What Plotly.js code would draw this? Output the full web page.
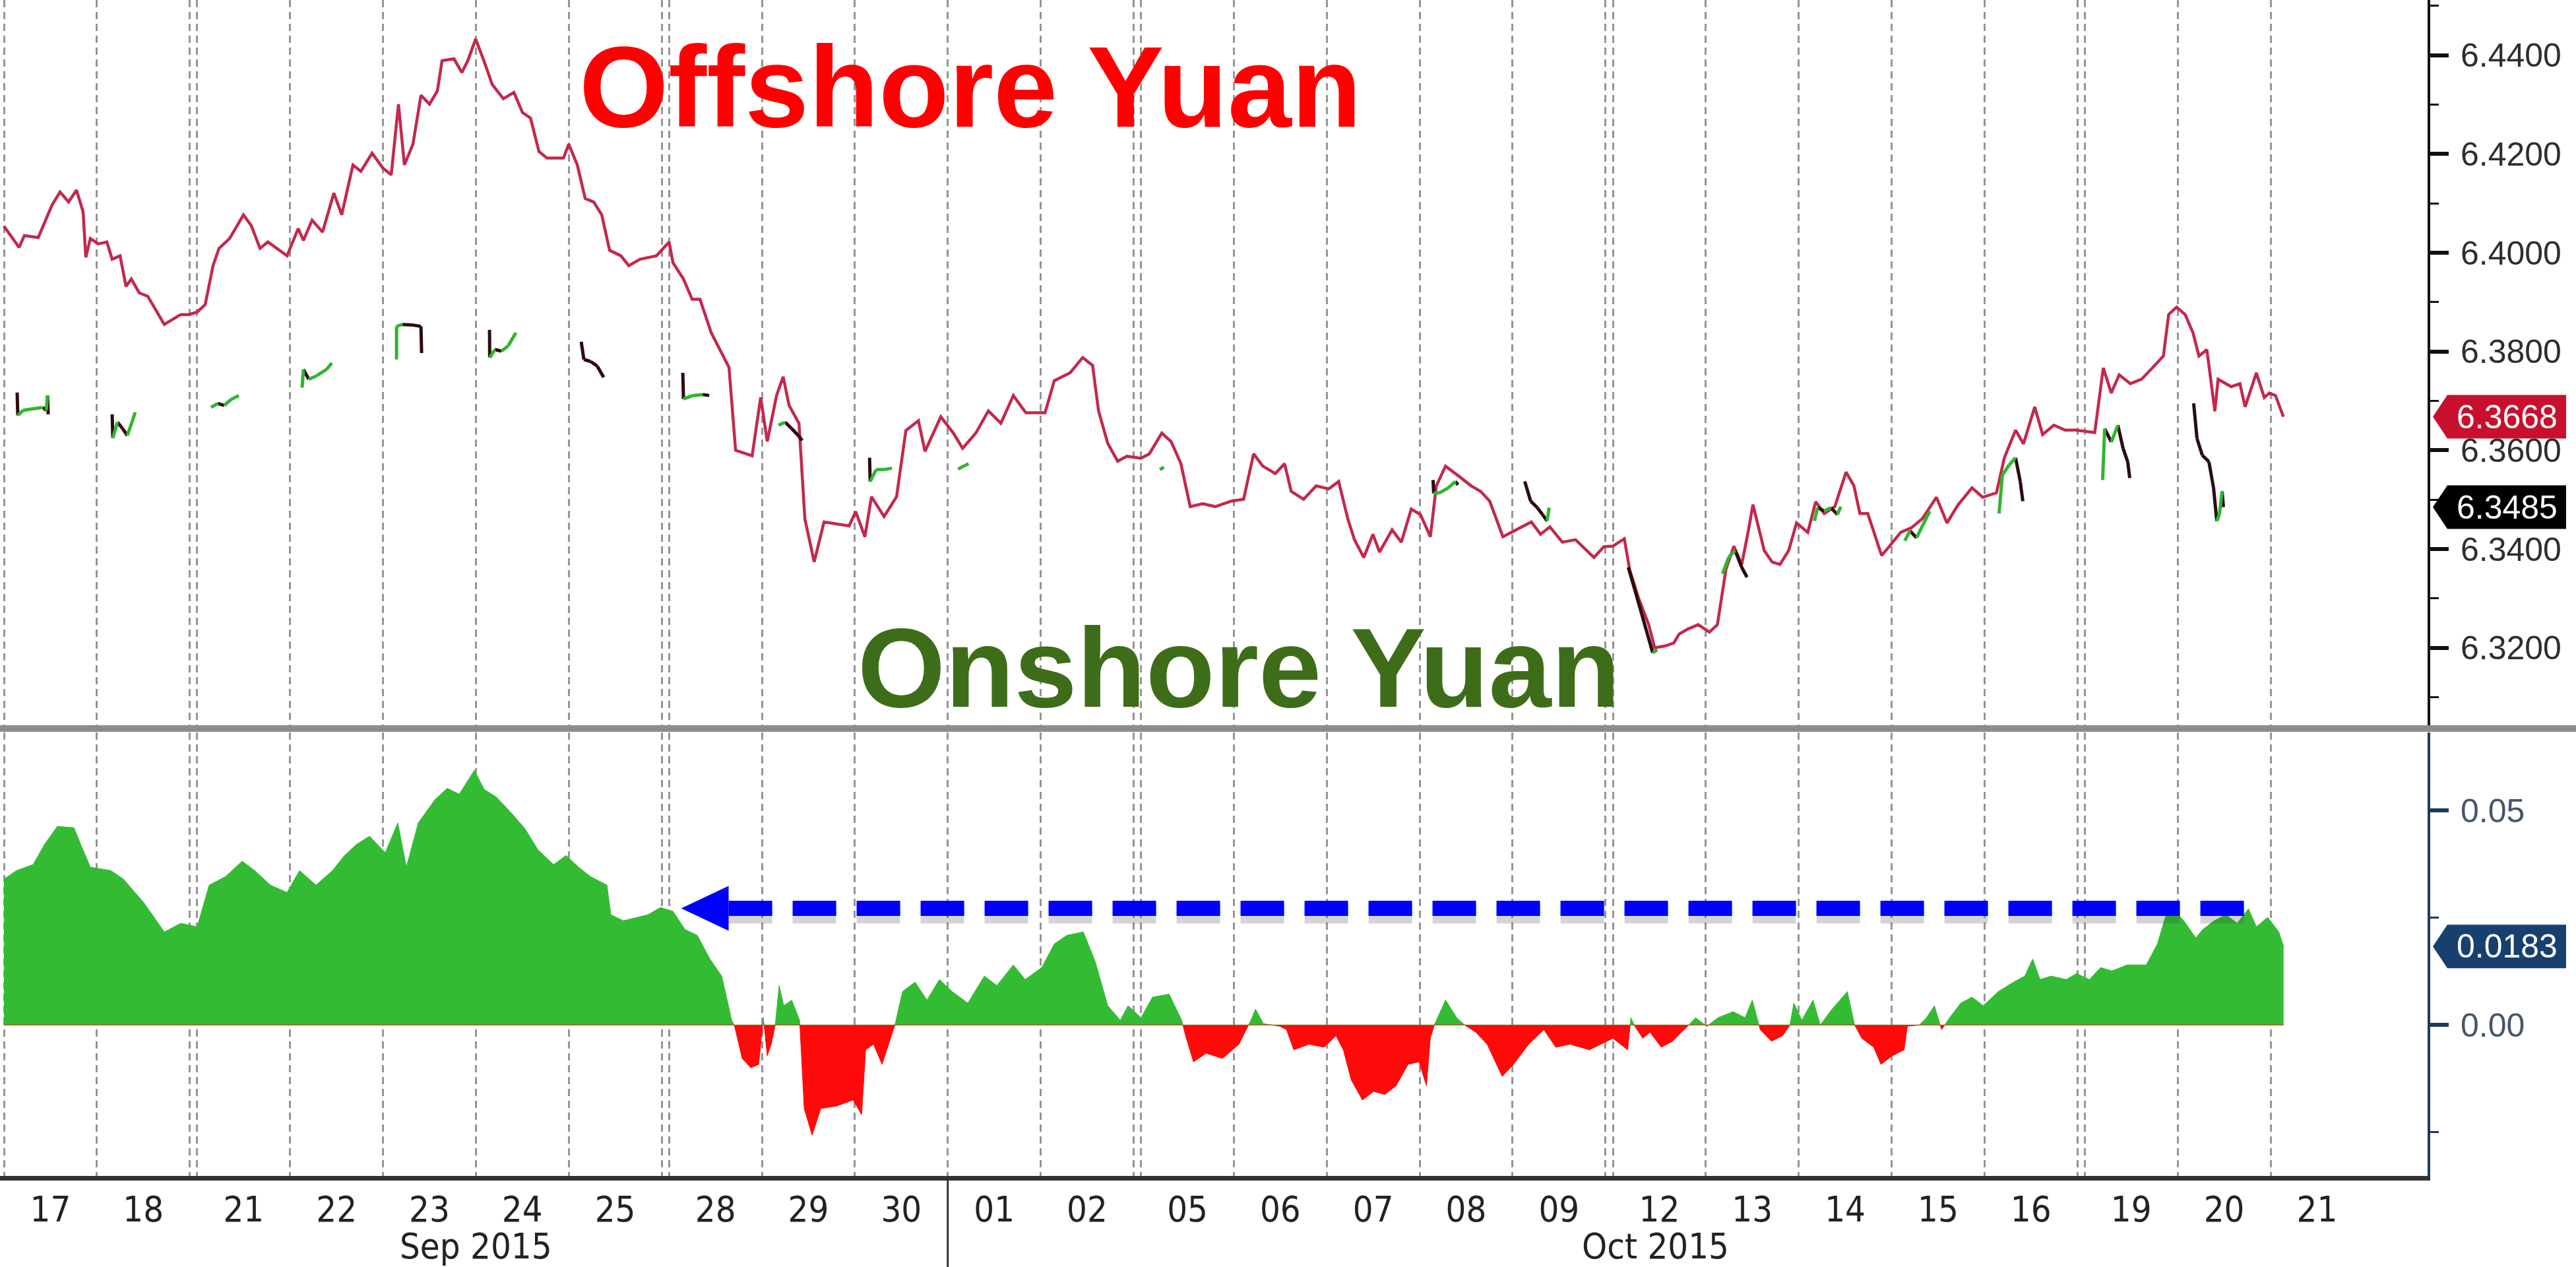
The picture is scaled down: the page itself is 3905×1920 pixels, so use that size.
<!DOCTYPE html>
<html><head><meta charset="utf-8">
<script src="https://cdn.plot.ly/plotly-3.0.1.min.js"></script>
<style>html,body{margin:0;padding:0;background:#fff;}#chart{width:3905px;height:1920px;}</style>
</head><body><div id="chart"></div>
<script>
// ---------- DATA ----------
// trading days on the axis (t = trading-day index + fraction of the day)
const dayLabels = ['17','18','21','22','23','24','25','28','29','30','01','02','05','06','07','08','09','12','13','14','15','16','19','20','21'];
const mondayIdx = [2, 7, 12, 17, 22];          // first trading day after each weekend
const monthLabels = ['Sep 2015', 'Oct 2015'];
const monthFirstDay = [0, 10];
const monthLastDay = [9, 24];

// Offshore yuan (CNH)
const offT = [0.000,0.163,0.220,0.369,0.518,0.604,0.696,0.781,0.852,0.881,0.930,1.016,1.108,1.165,1.250,1.314,1.371,1.456,1.548,1.726,1.903,1.990,
2.000,2.086,2.171,2.235,2.349,2.498,2.583,2.676,2.761,2.967,3.088,3.144,3.237,3.350,3.471,3.556,3.677,3.762,3.883,3.997,4.089,4.167,4.231,4.323,4.409,4.501,4.586,4.636,4.764,4.849,4.913,4.998,
5.090,5.176,5.296,5.410,5.502,5.588,5.680,5.765,5.943,6.000,6.092,6.177,6.269,6.355,6.440,6.561,6.646,6.767,6.944,
7.000,7.042,7.155,7.248,7.333,7.454,7.645,7.716,7.894,7.986,8.057,8.157,8.228,8.292,8.398,8.462,8.562,8.668,8.938,9.009,9.108,9.179,9.314,9.449,9.549,9.684,9.755,9.925,
10.060,10.160,10.302,10.437,10.572,10.706,10.841,11.047,11.147,11.317,11.452,11.559,11.623,11.722,11.829,11.928,
12.000,12.090,12.224,12.324,12.430,12.530,12.665,12.800,12.970,13.105,13.212,13.311,13.446,13.546,13.617,13.751,13.886,14.021,14.128,14.227,14.298,14.398,14.497,14.568,14.703,14.803,14.909,
15.009,15.115,15.179,15.278,15.420,15.555,15.655,15.754,15.896,15.996,16.095,16.202,16.301,16.401,16.536,16.678,16.876,16.983,
17.000,17.123,17.180,17.272,17.386,17.450,17.564,17.656,17.713,17.805,17.919,18.039,18.125,18.217,18.302,18.387,18.451,18.508,18.629,18.714,18.799,18.892,18.977,
19.098,19.183,19.275,19.389,19.510,19.595,19.659,19.744,19.893,19.978,20.099,20.213,20.333,20.483,20.596,20.717,20.866,20.980,21.129,21.214,21.335,21.420,21.541,21.626,21.747,21.868,21.981,
22.107,22.199,22.285,22.370,22.491,22.611,22.753,22.846,22.903,22.988,23.080,23.165,23.229,23.314,23.400,23.435,23.577,23.670,23.726,23.847,23.932,23.989,24.053,24.138];
const offV = [6.4054,6.4011,6.4035,6.4031,6.4097,6.4123,6.4103,6.4127,6.4083,6.3991,6.4029,6.4018,6.4022,6.3987,6.3994,6.3932,6.3947,6.3919,6.3912,6.3855,6.3875,6.3875,
6.3880,6.3895,6.3974,6.4009,6.4029,6.4077,6.4055,6.4009,6.4022,6.3994,6.4049,6.4025,6.4066,6.4042,6.4121,6.4077,6.4178,6.4165,6.4202,6.4172,6.4158,6.4301,6.4178,6.4220,6.4319,6.4301,6.4328,6.4389,6.4393,6.4365,6.4389,6.4433,
6.4387,6.4341,6.4312,6.4325,6.4284,6.4273,6.4205,6.4192,6.4192,6.4220,6.4178,6.4110,6.4103,6.4077,6.4005,6.3994,6.3974,6.3987,6.3994,
6.4022,6.3980,6.3947,6.3906,6.3906,6.3838,6.3768,6.3600,6.3589,6.3707,6.3618,6.3711,6.3749,6.3691,6.3655,6.3461,6.3374,6.3455,6.3447,6.3476,6.3425,6.3506,6.3466,6.3506,6.3640,6.3660,6.3598,6.3668,
6.3635,6.3604,6.3635,6.3680,6.3655,6.3711,6.3676,6.3676,6.3741,6.3757,6.3788,6.3772,6.3680,6.3614,6.3578,6.3588,
6.3584,6.3593,6.3635,6.3618,6.3573,6.3486,6.3492,6.3486,6.3497,6.3501,6.3593,6.3568,6.3553,6.3573,6.3517,6.3501,6.3528,6.3522,6.3537,6.3461,6.3419,6.3383,6.3430,6.3394,6.3439,6.3414,6.3481,
6.3470,6.3425,6.3528,6.3568,6.3548,6.3528,6.3517,6.3497,6.3425,6.3435,6.3445,6.3455,6.3430,6.3445,6.3414,6.3419,6.3383,6.3405,
6.3406,6.3421,6.3359,6.3303,6.3247,6.3200,6.3204,6.3210,6.3228,6.3238,6.3247,6.3232,6.3247,6.3359,6.3406,6.3369,6.3430,6.3490,6.3397,6.3374,6.3369,6.3397,6.3453,
6.3434,6.3496,6.3472,6.3486,6.3556,6.3528,6.3472,6.3472,6.3387,6.3406,6.3434,6.3443,6.3462,6.3505,6.3453,6.3490,6.3524,6.3505,6.3514,6.3585,6.3641,6.3613,6.3688,6.3632,6.3651,6.3641,6.3641,
6.3636,6.3767,6.3716,6.3753,6.3735,6.3744,6.3772,6.3791,6.3875,6.3890,6.3875,6.3838,6.3791,6.3804,6.3679,6.3744,6.3729,6.3735,6.3688,6.3757,6.3707,6.3716,6.3711,6.3668];

// Onshore yuan (CNY) - traded only in the Asian session; null separates sessions
const onT = [0.142,0.149,0.206,0.312,0.419,0.455,0.469,0.476,null,
1.165,1.172,1.222,1.278,1.328,1.378,1.413,null,
2.150,2.221,2.292,2.363,2.448,null,
3.130,3.144,3.201,3.286,3.393,3.450,null,
4.146,4.146,4.210,4.316,4.409,4.416,null,
5.147,5.149,5.204,5.275,5.346,5.431,null,
6.134,6.163,6.234,6.305,6.376,null,
7.148,7.155,7.255,7.361,7.432,null,
8.178,8.249,8.320,8.391,8.434,null,
9.158,9.165,9.229,9.314,9.400,null,
10.110,10.181,10.224,null,
12.203,12.246,null,
15.144,15.151,15.215,15.307,15.385,15.413,null,
16.131,16.195,16.266,16.322,16.372,16.394,null,
17.166,17.237,17.308,17.379,17.429,17.478,null,
18.181,18.245,18.316,18.387,18.444,null,
19.169,19.204,19.275,19.346,19.417,19.453,null,
20.142,20.198,20.269,20.340,20.412,null,
21.157,21.193,21.264,21.335,21.385,21.413,null,
22.192,22.214,22.285,22.356,22.412,22.462,22.484,null,
23.172,23.208,23.265,23.336,23.386,23.421,23.449,23.478,23.492];
const onV = [6.3717,6.3671,6.3681,6.3684,6.3687,6.3681,6.3711,6.3673,null,
6.3673,6.3625,6.3657,6.3644,6.3630,6.3657,6.3677,null,
6.3687,6.3695,6.3691,6.3703,6.3711,null,
6.3727,6.3764,6.3744,6.3751,6.3764,6.3777,null,
6.3784,6.3851,6.3855,6.3854,6.3851,6.3797,null,
6.3844,6.3788,6.3804,6.3801,6.3811,6.3838,null,
6.3820,6.3784,6.3780,6.3771,6.3748,null,
6.3757,6.3704,6.3711,6.3713,6.3711,null,
6.3651,6.3657,6.3644,6.3630,6.3620,null,
6.3585,6.3537,6.3561,6.3561,6.3564,null,
6.3562,6.3569,6.3573,null,
6.3561,6.3566,null,
6.3540,6.3513,6.3514,6.3524,6.3537,6.3530,null,
6.3537,6.3497,6.3484,6.3470,6.3457,6.3484,null,
6.3363,6.3317,6.3270,6.3223,6.3190,6.3196,null,
6.3350,6.3383,6.3397,6.3363,6.3343,null,
6.3457,6.3484,6.3477,6.3484,6.3470,6.3486,null,
6.3417,6.3437,6.3423,6.3450,6.3477,null,
6.3472,6.3550,6.3570,6.3585,6.3537,6.3497,null,
6.3540,6.3644,6.3617,6.3651,6.3604,6.3577,6.3544,null,
6.3695,6.3624,6.3590,6.3577,6.3524,6.3457,6.3470,6.3517,6.3485];

// Offshore minus onshore spread
const sprT = [0.000,0.135,0.313,0.440,0.575,0.753,0.838,0.930,1.151,1.286,1.506,1.726,1.903,2.000,2.129,2.306,2.484,2.619,2.789,2.967,3.102,3.279,3.457,3.585,3.720,3.855,4.025,4.160,4.252,4.380,4.558,4.693,4.821,4.984,
5.090,5.218,5.396,5.531,5.666,5.836,5.971,6.106,6.234,6.411,6.454,6.589,6.852,6.987,7.042,7.170,7.304,7.439,7.567,7.674,7.702,7.787,7.880,7.965,8.015,8.057,8.100,8.143,8.185,8.235,8.320,8.405,8.455,8.540,8.633,8.803,8.981,
9.073,9.116,9.201,9.293,9.428,9.513,9.648,9.776,9.911,10.046,10.216,10.394,10.529,10.706,10.834,11.012,11.147,11.282,11.459,11.587,11.722,11.857,11.942,
12.000,12.125,12.303,12.438,12.480,12.565,12.700,12.878,13.055,13.183,13.233,13.318,13.496,13.567,13.645,13.808,13.972,14.099,14.178,14.263,14.384,14.504,14.625,14.746,14.874,14.994,
15.073,15.115,15.158,15.278,15.399,15.484,15.605,15.726,15.889,16.010,16.173,16.337,16.465,16.621,16.827,
17.000,17.159,17.194,17.237,17.322,17.400,17.521,17.642,17.805,17.890,18.011,18.132,18.295,18.423,18.501,18.586,18.707,18.828,18.906,18.948,19.034,19.154,19.233,19.360,19.524,19.602,19.680,19.808,19.886,
20.007,20.135,20.170,20.298,20.376,20.461,20.539,20.625,20.745,20.866,20.987,21.150,21.314,21.434,21.519,21.598,21.718,21.882,21.990,
22.050,22.171,22.292,22.455,22.661,22.782,22.867,22.945,23.066,23.194,23.272,23.393,23.520,23.641,23.762,23.847,23.968,24.089,24.140];
const sprV = [0.0340,0.0360,0.0374,0.0422,0.0463,0.0460,0.0415,0.0368,0.0360,0.0340,0.0285,0.0217,0.0237,0.0229,0.0326,0.0346,0.0382,0.0360,0.0326,0.0309,0.0360,0.0326,0.0360,0.0395,0.0422,0.0440,0.0402,0.0471,0.0368,0.0471,0.0525,0.0552,0.0538,0.0594,
0.0549,0.0532,0.0491,0.0457,0.0409,0.0374,0.0395,0.0368,0.0346,0.0326,0.0257,0.0243,0.0257,0.0274,0.0265,0.0223,0.0209,0.0154,0.0114,0.0011,0.0000,-0.0078,-0.0100,-0.0092,0.0017,-0.0072,-0.0045,0.0000,0.0092,0.0045,0.0058,0.0011,-0.0195,-0.0257,-0.0195,-0.0189,-0.0175,
-0.0209,-0.0058,-0.0045,-0.0092,-0.0003,0.0078,0.0100,0.0058,0.0106,0.0078,0.0051,0.0114,0.0092,0.0140,0.0106,0.0134,0.0189,0.0209,0.0217,0.0148,0.0045,0.0011,0.0045,
0.0017,0.0065,0.0072,0.0011,-0.0025,-0.0086,-0.0066,-0.0078,-0.0045,0.0011,0.0037,0.0003,-0.0003,-0.0011,-0.0058,-0.0045,-0.0052,-0.0025,-0.0058,-0.0128,-0.0175,-0.0155,-0.0162,-0.0142,-0.0092,-0.0086,
-0.0142,-0.0031,0.0000,0.0058,0.0017,0.0000,-0.0017,-0.0045,-0.0120,-0.0092,-0.0045,-0.0011,-0.0052,-0.0045,-0.0058,
-0.0031,-0.0058,0.0017,-0.0003,-0.0031,-0.0017,-0.0052,-0.0038,-0.0003,0.0017,-0.0003,0.0017,0.0031,0.0017,0.0058,-0.0011,-0.0038,-0.0025,0.0000,0.0051,0.0011,0.0058,0.0000,0.0037,0.0078,0.0000,-0.0031,-0.0052,-0.0092,
-0.0072,-0.0058,-0.0003,0.0000,0.0017,0.0045,-0.0011,0.0017,0.0051,0.0065,0.0045,0.0078,0.0100,0.0114,0.0154,0.0106,0.0114,0.0106,0.0120,
0.0106,0.0134,0.0126,0.0140,0.0140,0.0189,0.0251,0.0271,0.0243,0.0203,0.0223,0.0243,0.0257,0.0237,0.0271,0.0229,0.0251,0.0217,0.0183];

// annotation arrow (spread level on 20 Oct carried back to 28 Sep)
const arrowLevel = 0.0272;
const arrowTipT = 7.13;
const arrowEndT = 23.76;

// ---------- GEOMETRY HELPERS ----------
const GAP = 0.08;   // width of a weekend break, in trading days
function weekendsBefore(d){ let w = 0; for (const m of mondayIdx) if (d >= m) w++; return w; }
function toX(t){ if (t === null) return null; const d = Math.floor(t + 1e-9); return t + GAP * weekendsBefore(d); }

const W = 3905, H = 1920;
const xDomain = [0, 3680 / W];
const xRange = [-0.0426, 26.09];
const pxPerX = (xDomain[1] - xDomain[0]) * W / (xRange[1] - xRange[0]);
const y2Range = [-0.0352, 0.0682];
const y2Dom = [0.071875, 0.421875];
const pxPerY2 = (y2Dom[1] - y2Dom[0]) * H / (y2Range[1] - y2Range[0]);

const nDays = dayLabels.length;
const dayIdx = Array.from({length: nDays}, (_, i) => i);
const gridVals = dayIdx.map(i => toX(i)).concat(mondayIdx.map(m => toX(m - 1) + 1));
const labelVals = dayIdx.map(i => toX(i) + 0.5);

// onshore segments coloured by direction
const upX = [], upY = [], dnX = [], dnY = [];
for (let i = 0; i < onT.length - 1; i++) {
  if (onV[i] === null || onV[i + 1] === null) continue;
  const tx = onV[i + 1] >= onV[i] ? [upX, upY] : [dnX, dnY];
  tx[0].push(toX(onT[i]), toX(onT[i + 1]), null);
  tx[1].push(onV[i], onV[i + 1], null);
}

// spread split into positive / negative areas (with zero crossings)
const sx = [], sy = [];
for (let i = 0; i < sprT.length; i++) {
  if (i > 0 && sprV[i - 1] * sprV[i] < 0) {
    const f = sprV[i - 1] / (sprV[i - 1] - sprV[i]);
    sx.push(toX(sprT[i - 1] + f * (sprT[i] - sprT[i - 1]))); sy.push(0);
  }
  sx.push(toX(sprT[i])); sy.push(sprV[i]);
}
const posY = sy.map(v => Math.max(v, 0));
const negY = sy.map(v => Math.min(v, 0));

const arrowHeadPx = 72;
const arrowTipX = toX(arrowTipT);
const arrowStartX = arrowTipX + arrowHeadPx / pxPerX;
const arrowEndX = toX(arrowEndT);
const shadowOff = 11 / pxPerY2;

const lastOff = offV[offV.length - 1];
const lastOn = onV[onV.length - 1];
const lastSpr = sprV[sprV.length - 1];

// ---------- TRACES ----------
const traces = [
  {x: offT.map(toX), y: offV, xaxis: 'x', yaxis: 'y', mode: 'lines', line: {color: '#c3284c', width: 4.5}},
  {x: dnX, y: dnY, xaxis: 'x', yaxis: 'y', mode: 'lines', line: {color: '#2b0c0c', width: 5}},
  {x: upX, y: upY, xaxis: 'x', yaxis: 'y', mode: 'lines', line: {color: '#2fb52f', width: 5}},
  {x: sx, y: posY, xaxis: 'x2', yaxis: 'y2', mode: 'lines', fill: 'tozeroy', fillcolor: '#33bb33', line: {color: '#33bb33', width: 1}},
  {x: sx, y: negY, xaxis: 'x2', yaxis: 'y2', mode: 'lines', fill: 'tozeroy', fillcolor: '#ff0a0a', line: {color: '#ff0a0a', width: 1}},
  {x: [arrowStartX, arrowEndX], y: [arrowLevel - shadowOff, arrowLevel - shadowOff], xaxis: 'x2', yaxis: 'y2', mode: 'lines',
   line: {color: 'rgba(60,60,60,0.22)', width: 24, dash: '66px,31px'}},
  {x: [arrowStartX, arrowEndX], y: [arrowLevel, arrowLevel], xaxis: 'x2', yaxis: 'y2', mode: 'lines',
   line: {color: '#0000ff', width: 23, dash: '66px,31px'}},
  {x: labelVals, y: labelVals.map(() => 0), xaxis: 'x3', yaxis: 'y2', mode: 'markers', marker: {opacity: 0}, hoverinfo: 'skip'}
];

const gridStyle = {showgrid: true, gridcolor: '#959595', gridwidth: 3, griddash: '11px,7px'};
const tickFont = {family: 'Liberation Sans, Arial, sans-serif', size: 50, color: '#2e2e2e'};

const layout = {
  width: W, height: H, margin: {l: 0, r: 0, t: 0, b: 0},
  paper_bgcolor: '#ffffff', plot_bgcolor: '#ffffff', showlegend: false, hovermode: false,
  xaxis: Object.assign({domain: xDomain, range: xRange, anchor: 'y', tickmode: 'array', tickvals: gridVals,
    showticklabels: false, ticks: '', zeroline: false, showline: false}, gridStyle),
  yaxis: {domain: [1 - 1100 / H, 1], range: [6.3042, 6.4512], side: 'right', anchor: 'x',
    showline: true, linecolor: '#111111', linewidth: 4, ticks: 'outside', ticklen: 28, tickwidth: 6, tickcolor: '#111111',
    tick0: 6.32, dtick: 0.02, tickformat: '.4f', tickfont: tickFont, ticklabelstandoff: 8,
    showgrid: false, zeroline: false,
    minor: {ticks: 'outside', ticklen: 13, tickwidth: 3, tickcolor: '#111111', tick0: 6.31, dtick: 0.01}},
  xaxis2: Object.assign({domain: xDomain, range: xRange, anchor: 'y2', tickmode: 'array', tickvals: gridVals,
    showticklabels: false, ticks: '', zeroline: false, showline: true, linecolor: '#333333', linewidth: 7}, gridStyle),
  xaxis3: {domain: xDomain, range: xRange, anchor: 'y2', overlaying: 'x2', side: 'bottom', tickmode: 'array',
    tickvals: labelVals, ticktext: dayLabels, ticks: '', showgrid: false, zeroline: false, showline: false,
    tickfont: {family: 'Liberation Sans Narrow, DejaVu Sans Condensed, Arial Narrow, sans-serif', size: 54, color: '#222222'},
    ticklabelstandoff: 14},
  yaxis2: {domain: y2Dom, range: y2Range, side: 'right', anchor: 'x2',
    showline: true, linecolor: '#1d3a5c', linewidth: 4, ticks: 'outside', ticklen: 28, tickwidth: 6, tickcolor: '#1d3a5c',
    tick0: 0, dtick: 0.05, tickformat: '.2f', tickfont: Object.assign({}, tickFont, {color: '#46566b'}), ticklabelstandoff: 8,
    showgrid: false, zeroline: false,
    minor: {ticks: 'outside', ticklen: 13, tickwidth: 3, tickcolor: '#1d3a5c', tick0: 0.025, dtick: 0.025}},
  shapes: [
    {type: 'line', xref: 'paper', yref: 'paper', x0: 0, x1: 1, y0: 1 - 1104 / H, y1: 1 - 1104 / H, line: {color: '#8c8c8c', width: 10}},
    {type: 'line', xref: 'x2', yref: 'paper', x0: toX(monthFirstDay[1]), x1: toX(monthFirstDay[1]), y0: 0, y1: y2Dom[0], line: {color: '#333333', width: 3}},
    {type: 'path', xref: 'x2', yref: 'y2', xsizemode: 'pixel', ysizemode: 'pixel', xanchor: arrowTipX, yanchor: arrowLevel,
     path: 'M0,0L' + arrowHeadPx + ',34L' + arrowHeadPx + ',-34Z', fillcolor: '#0000ff', line: {width: 0}, layer: 'above'},
    {type: 'path', xref: 'paper', yref: 'y', xsizemode: 'pixel', ysizemode: 'pixel', xanchor: xDomain[1], yanchor: lastOff,
     path: 'M8,0L30,33L210,33L210,-33L30,-33Z', fillcolor: '#c8102e', line: {width: 0}, layer: 'above'},
    {type: 'path', xref: 'paper', yref: 'y', xsizemode: 'pixel', ysizemode: 'pixel', xanchor: xDomain[1], yanchor: lastOn,
     path: 'M8,0L30,33L210,33L210,-33L30,-33Z', fillcolor: '#000000', line: {width: 0}, layer: 'above'},
    {type: 'path', xref: 'paper', yref: 'y2', xsizemode: 'pixel', ysizemode: 'pixel', xanchor: xDomain[1], yanchor: lastSpr,
     path: 'M8,0L30,33L210,33L210,-33L30,-33Z', fillcolor: '#17406e', line: {width: 0}, layer: 'above'}
  ],
  annotations: [
    {text: '<b>Offshore Yuan</b>', xref: 'paper', yref: 'paper', x: 1471 / W, y: 1 - 132 / H, xanchor: 'center', yanchor: 'middle',
     showarrow: false, font: {family: 'Liberation Sans, Arial, sans-serif', size: 174, color: '#ff0000'}},
    {text: '<b>Onshore Yuan</b>', xref: 'paper', yref: 'paper', x: 1878 / W, y: 1 - 1011 / H, xanchor: 'center', yanchor: 'middle',
     showarrow: false, font: {family: 'Liberation Sans, Arial, sans-serif', size: 171, color: '#3e6d19'}},
    {text: lastOff.toFixed(4), xref: 'paper', yref: 'y', x: (3680 + 120) / W, y: lastOff, xanchor: 'center', yanchor: 'middle',
     showarrow: false, font: {family: 'Liberation Sans, Arial, sans-serif', size: 50, color: '#ffffff'}},
    {text: lastOn.toFixed(4), xref: 'paper', yref: 'y', x: (3680 + 120) / W, y: lastOn, xanchor: 'center', yanchor: 'middle',
     showarrow: false, font: {family: 'Liberation Sans, Arial, sans-serif', size: 50, color: '#ffffff'}},
    {text: lastSpr.toFixed(4), xref: 'paper', yref: 'y2', x: (3680 + 120) / W, y: lastSpr, xanchor: 'center', yanchor: 'middle',
     showarrow: false, font: {family: 'Liberation Sans, Arial, sans-serif', size: 50, color: '#ffffff'}}
  ].concat(monthLabels.map((m, i) => ({
    text: m, xref: 'x2', yref: 'paper', x: (toX(monthFirstDay[i]) + toX(monthLastDay[i]) + 1) / 2, y: 1 - 1888 / H,
    xanchor: 'center', yanchor: 'middle', showarrow: false,
    font: {family: 'Liberation Sans Narrow, DejaVu Sans Condensed, Arial Narrow, sans-serif', size: 54, color: '#222222'}})))
};

Plotly.newPlot('chart', traces, layout, {staticPlot: true, displayModeBar: false});
</script>
</body></html>
